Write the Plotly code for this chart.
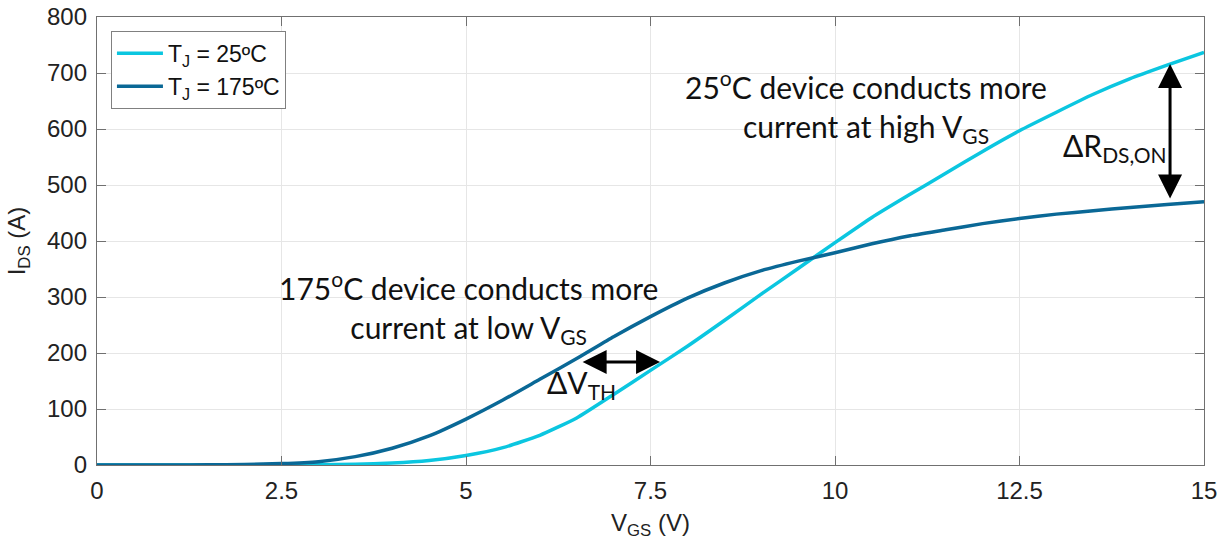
import plotly.graph_objects as go

vgs = [0, 0.5, 1, 1.5, 2, 2.5, 3, 3.5, 4, 4.5, 5, 5.5, 6, 6.5, 7, 7.5, 8, 8.5, 9, 9.5,
       10, 10.5, 11, 11.5, 12, 12.5, 13, 13.5, 14, 14.5, 15]
ids_25c = [0, 0, 0, 0, 0, 0.2, 0.6, 1.5, 3.5, 8, 17, 31, 53, 84, 126, 169, 212, 258, 305, 351,
           397, 442, 482, 521, 560, 597, 630, 662, 690, 714, 737]
ids_175c = [0, 0, 0, 0.3, 1, 2.5, 6, 15, 30, 52, 82, 116, 153, 190, 229, 265, 298, 325, 347, 364,
            379, 395, 409, 420, 431, 440, 448, 454, 460, 465, 470]

x_ticks = [0, 2.5, 5, 7.5, 10, 12.5, 15]
x_tick_labels = ["0", "2.5", "5", "7.5", "10", "12.5", "15"]
y_ticks = [0, 100, 200, 300, 400, 500, 600, 700, 800]

series_names = ["T<sub>J</sub> = 25ºC", "T<sub>J</sub> = 175ºC"]
colors = ["#0BC6E0", "#0A6896"]

fig = go.Figure()
fig.add_trace(go.Scatter(x=vgs, y=ids_25c, mode="lines", name=series_names[0],
                         line=dict(color=colors[0], width=3.5, shape="spline", smoothing=0.5)))
fig.add_trace(go.Scatter(x=vgs, y=ids_175c, mode="lines", name=series_names[1],
                         line=dict(color=colors[1], width=3.5, shape="spline", smoothing=0.5)))

ann_font = dict(family="Lato", size=30, color="#111111")

# Arrows (double headed)
fig.add_annotation(x=6.58, y=184, ax=7.65, ay=184, xref="x", yref="y", axref="x", ayref="y",
                   text="", showarrow=True, arrowhead=2, startarrowhead=2, arrowside="end+start",
                   arrowsize=1.6, startarrowsize=1.6, arrowwidth=3, arrowcolor="black")
fig.add_annotation(x=14.54, y=716, ax=14.54, ay=473, xref="x", yref="y", axref="x", ayref="y",
                   text="", showarrow=True, arrowhead=2, startarrowhead=2, arrowside="end+start",
                   arrowsize=1.6, startarrowsize=1.6, arrowwidth=3, arrowcolor="black")

fig.add_annotation(x=5.03, y=281, xref="x", yref="y", showarrow=False, align="center",
                   text="175<sup>o</sup>C device conducts more<br>current at low V<sub>GS</sub>",
                   font=ann_font)
fig.add_annotation(x=10.42, y=640, xref="x", yref="y", showarrow=False, align="center",
                   text="25<sup>o</sup>C device conducts more<br>current at high V<sub>GS</sub>",
                   font=ann_font)
fig.add_annotation(x=6.57, y=145, xref="x", yref="y", showarrow=False,
                   text="ΔV<sub>TH</sub>", font=ann_font)
fig.add_annotation(x=13.8, y=568, xref="x", yref="y", showarrow=False,
                   text="ΔR<sub>DS,ON</sub>", font=ann_font)

axis_common = dict(showline=True, linecolor="#707070", linewidth=1.3, mirror="ticks",
                   ticks="inside", ticklen=9, tickcolor="#707070", tickwidth=1.3,
                   showgrid=True, gridcolor="#E6E6E6", gridwidth=1, zeroline=False,
                   automargin=False, ticklabelstandoff=4, ticklabeloverflow="allow",
                   tickfont=dict(family="Liberation Sans", size=24, color="#222222"))

fig.update_xaxes(range=[0, 15], tickvals=x_ticks, ticktext=x_tick_labels,
                 title=dict(text="V<sub>GS</sub> (V)", standoff=11,
                            font=dict(family="Liberation Sans", size=24, color="#222222")),
                 **axis_common)
fig.update_yaxes(range=[0, 800], tickvals=y_ticks,
                 title=dict(text="I<sub>DS</sub> (A)", standoff=14,
                            font=dict(family="Liberation Sans", size=24, color="#222222")),
                 **axis_common)

fig.update_layout(
    width=1225, height=548,
    margin=dict(l=97, r=21, t=17, b=83),
    plot_bgcolor="white", paper_bgcolor="white",
    showlegend=True,
    legend=dict(x=0.0126, y=0.969, xanchor="left", yanchor="top",
                bgcolor="white", bordercolor="#808080", borderwidth=1,
                font=dict(family="Liberation Sans", size=23, color="#111111"),
                tracegroupgap=0, itemwidth=46),
)

# remove the default 8px page margin so the figure sits at the window's top-left corner
fig.write_html("out.html", config={"displayModeBar": False},
               post_script="document.body.style.margin='0';")
